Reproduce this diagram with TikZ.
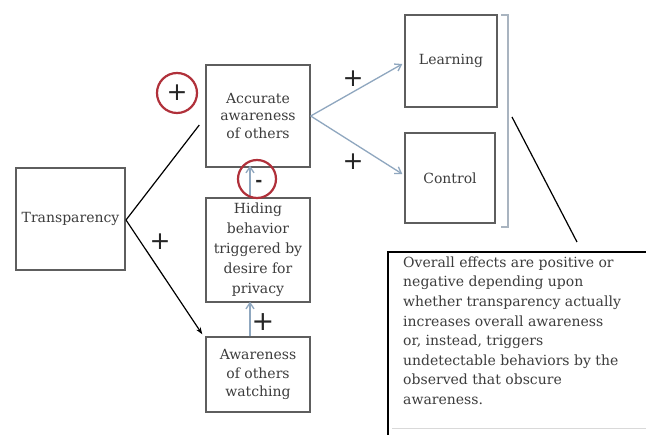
\documentclass[tikz,border=0pt]{standalone}
\usepackage{fontspec}
\setmainfont{DejaVu Serif}
\newfontfamily\signfont{DejaVu Sans}
\usetikzlibrary{arrows.meta,calc}
\definecolor{boxline}{HTML}{5E5E5E}
\definecolor{txt}{HTML}{3C3C3C}
\definecolor{linkblue}{HTML}{8FA7BF}
\definecolor{circred}{HTML}{B0303A}
\definecolor{brk}{HTML}{A9B4C0}
\begin{document}
\begin{tikzpicture}[x=1pt,y=-1pt,
  box/.style={draw=boxline,line width=1.4pt,text=txt,align=center,inner sep=0pt},
  fs/.style={font=\fontsize{14}{#1}\selectfont},
  sign/.style={text=black!85,inner sep=0pt,font=\signfont\fontsize{25}{25}\selectfont},
  ring/.style={draw=circred,line width=2.2pt,circle,minimum size=40pt,inner sep=0pt},
  bluearrow/.style={draw=linkblue,line width=1.3pt,-{Straight Barb[length=6pt,width=8pt]}},
  blackline/.style={draw=black,line width=1.2pt}]
\useasboundingbox[fill=white] (0,0) rectangle (646,435);

% boxes
\node[box,fs=18,minimum width=109pt,minimum height=102pt] (trans) at (70.5,219) {Transparency};
\node[box,fs=17.5,minimum width=104pt,minimum height=102pt] (acc) at (258,116) {Accurate\\awareness\\of others};
\node[box,fs=20,minimum width=104pt,minimum height=104pt] (hide) at (258,250) {Hiding\\behavior\\triggered by\\desire for\\privacy};
\node[box,fs=18.5,minimum width=104pt,minimum height=75pt] (watch) at (258,374.5) {Awareness\\of others\\watching};
\node[box,fs=18,minimum width=92pt,minimum height=92pt] (learn) at (451,61) {Learning};
\node[box,fs=18,minimum width=90pt,minimum height=90pt] (ctrl) at (450,178) {Control};

% bracket
\coordinate (btop) at (501,15);
\coordinate (bbot) at (501,227);
\draw[draw=brk,line width=1.3pt] (btop) -- ++(7,0) -- ++(0,212) -- (bbot);
\coordinate (bmid) at (512,117);
\coordinate (ptr) at (577,242);
\draw[blackline] (bmid) -- (ptr);

% note box
\coordinate (nt) at (388,252);
\draw[line width=1.7pt] (646,252) -- (nt) -- (388,435);
\draw[black!15,line width=0.8pt] (392,428) -- (646,428);
\node[anchor=north west,inner sep=0pt,align=left,text=txt,font=\fontsize{14}{19.6}\selectfont] (note) at (403,256.5)
 {Overall effects are positive or\\negative depending upon\\whether transparency actually\\increases overall awareness\\or, instead, triggers\\undetectable behaviors by the\\observed that obscure\\awareness.};

% connectors
\coordinate (tj) at (126,220);
\draw[blackline] (tj) -- ($(acc.west)+(-6,9)$);
\draw[blackline,-{Stealth[length=7pt,width=5pt]}] (tj) -- ($(watch.north west)+(-3,-2)$);
\draw[bluearrow] (acc.east) -- ($(learn.west)+(-2,3)$);
\draw[bluearrow] (acc.east) -- ($(ctrl.west)+(-2,-4)$);
\draw[bluearrow] ($(watch.north)+(-8,0)$) -- ($(hide.south)+(-8,-1)$);
\draw[bluearrow] ($(hide.north)+(-8,0)$) -- ($(acc.south)+(-8,-2)$);

% signs
\node[sign] (p1) at (353,79) {+};
\node[sign] (p2) at (353,162) {+};
\node[sign] (p3) at (160,242) {+};
\node[sign,font=\signfont\fontsize{27}{27}\selectfont] (p4) at (263,322) {+};
\node[sign] (p5) at (177,93) {+};
\node[ring] (r1) at (177,93) {};
\node[ring,minimum size=38pt] (r2) at (257,179) {};
\node[inner sep=0pt,text=black!85,font=\signfont\bfseries\fontsize{17}{17}\selectfont] (m1) at (259,183) {-};
\end{tikzpicture}
\end{document}
